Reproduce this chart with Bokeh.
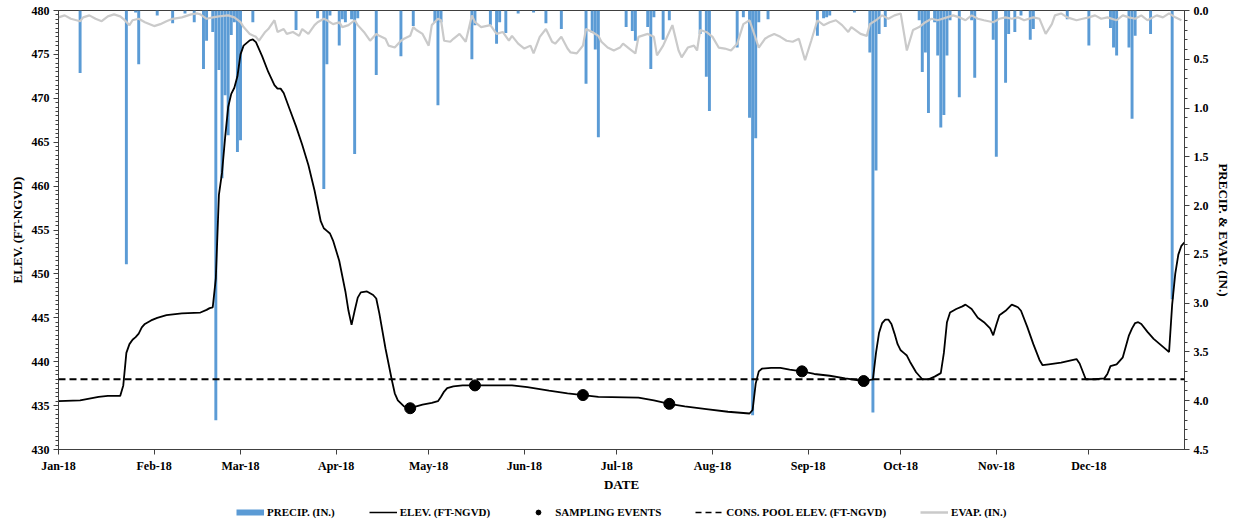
import datetime as dt
import pandas as pd
from bokeh.plotting import figure
from bokeh.layouts import column
from bokeh.models import (Range1d, LinearAxis, DatetimeTickFormatter, FixedTicker,
                          SingleIntervalTicker, PrintfTickFormatter, Legend, LegendItem,
                          Span, ColumnDataSource)
from bokeh.embed import file_html
from bokeh.resources import INLINE

# ---------------- data (days counted from 2018-01-01) ----------------
elev_day = [0, 7, 10, 13, 16, 20, 21, 22, 23, 24, 25, 26, 27, 28, 30, 32, 35, 40, 46, 48, 49,
            50, 51, 52, 53, 54, 55, 56, 57, 58, 59, 60, 62, 63, 64, 66, 68, 70, 71, 72, 73,
            75, 77, 79, 81, 83, 85, 86, 87, 88, 89, 91, 93, 94, 95, 96, 97, 98, 100, 102,
            103, 104, 106, 108, 109, 110, 112, 114, 118, 121, 123, 124, 125, 126, 128, 131,
            135, 147, 152, 159, 165, 170, 175, 188, 193, 198, 203, 210, 217, 224, 225, 226,
            227, 228, 231, 234, 237, 241, 245, 250, 255, 261, 264, 265, 266, 267, 268, 269,
            270, 271, 272, 273, 274, 275, 276, 278, 280, 282, 284, 286, 287, 288, 289, 291,
            293, 294, 296, 298, 300, 302, 303, 304, 305, 307, 309, 311, 312, 314, 316, 318,
            319, 321, 325, 330, 331, 333, 336, 339, 340, 341, 343, 345, 347, 348, 349, 350,
            351, 353, 355, 357, 359, 360, 361, 362, 363, 364, 365]
elev_ft = [435.5, 435.6, 435.8, 436.0, 436.1, 436.1, 437.3, 441.0, 442.0, 442.5, 442.8, 443.2,
           443.9, 444.3, 444.7, 445.0, 445.3, 445.5, 445.6, 445.9, 446.1, 446.2, 449.5, 459.0,
           461.5, 465.5, 469.0, 470.5, 471.2, 472.5, 475.0, 476.0, 476.6, 476.7, 476.4, 474.8,
           473.0, 471.5, 471.1, 471.1, 470.6, 468.7, 466.8, 464.7, 462.4, 459.5, 456.0, 455.2,
           454.9, 454.6, 453.8, 451.5, 448.0, 445.8, 444.2, 445.8, 447.3, 447.9, 448.0, 447.6,
           447.2, 445.5, 441.5, 438.0, 436.4, 435.6, 434.9, 434.7, 435.1, 435.3, 435.5, 436.0,
           436.6, 437.0, 437.2, 437.3, 437.3, 437.3, 437.1, 436.7, 436.4, 436.2, 436.0, 435.9,
           435.6, 435.2, 434.9, 434.6, 434.3, 434.1, 434.5, 437.5, 438.9, 439.2, 439.3, 439.3,
           439.1, 438.9, 438.6, 438.4, 438.1, 437.8, 438.0, 441.0, 443.3, 444.4, 444.8, 444.8,
           444.3, 443.2, 442.0, 441.3, 441.0, 440.7, 440.0, 438.8, 438.0, 438.0, 438.3, 438.7,
           441.0, 444.5, 445.6, 446.0, 446.3, 446.5, 446.0, 445.0, 444.5, 443.8, 443.0, 444.2,
           445.3, 445.8, 446.5, 446.2, 445.8, 444.0, 442.0, 440.2, 439.6, 439.7, 439.9, 440.3,
           439.8, 438.0, 438.0, 438.1, 438.6, 439.5, 439.7, 440.5, 443.0, 443.8, 444.4, 444.5,
           444.3, 443.4, 442.6, 442.0, 441.4, 441.1, 446.5, 450.0, 452.2, 453.2, 453.6]

sample_day = [114, 135, 170, 198, 241, 261]
sample_ft = [434.7, 437.3, 436.2, 435.2, 438.9, 437.8]

cons_pool_elev = 438.0

precip_day = [7, 22, 25, 26, 32, 37, 41, 44, 47, 48, 50, 51, 52, 53, 54, 55, 56, 57, 58, 59,
              63, 77, 84, 86, 87, 88, 91, 92, 93, 95, 96, 97, 103, 111, 115, 122, 123, 124,
              134, 135, 140, 142, 143, 145, 149, 154, 158, 163, 171, 173, 174, 175, 184, 186,
              187, 191, 192, 193, 196, 198, 208, 210, 211, 220, 222, 224, 225, 226, 227, 230,
              246, 248, 249, 250, 258, 263, 264, 265, 266, 268, 279, 280, 281, 282, 284, 285,
              286, 287, 288, 289, 292, 296, 297, 303, 304, 307, 308, 310, 312, 315, 316, 327,
              334, 341, 342, 343, 347, 348, 349, 354, 361]
precip_in = [0.64, 2.60, 0.02, 0.55, 0.05, 0.13, 0.03, 0.12, 0.60, 0.31, 0.22, 4.20, 0.61, 1.72,
             0.87, 1.28, 0.25, 0.12, 1.45, 1.33, 0.12, 0.20, 0.08, 1.83, 0.55, 0.05, 0.36, 0.09,
             0.12, 0.09, 1.47, 0.08, 0.66, 0.47, 0.16, 0.12, 0.97, 0.12, 0.50, 0.15, 0.15, 0.34,
             0.12, 0.23, 0.03, 0.02, 0.13, 0.19, 0.75, 0.23, 0.40, 1.30, 0.17, 0.21, 0.31, 0.17,
             0.60, 0.07, 0.30, 0.10, 0.24, 0.68, 1.03, 0.38, 0.07, 1.10, 4.15, 1.31, 0.12, 0.09,
             0.26, 0.08, 0.07, 0.05, 0.02, 0.43, 4.12, 1.64, 0.24, 0.17, 0.10, 0.63, 0.43, 1.05,
             0.12, 0.46, 1.20, 1.07, 0.46, 0.10, 0.89, 0.10, 0.69, 0.30, 1.50, 0.74, 0.24, 0.22,
             0.05, 0.30, 0.19, 0.09, 0.36, 0.18, 0.38, 0.46, 0.38, 1.11, 0.26, 0.24, 2.96]

evap_day = [0, 2, 4, 7, 8, 10, 12, 14, 16, 18, 20, 21, 23, 24, 26, 28, 31, 33, 35, 37, 40, 42,
            43, 45, 46, 48, 50, 52, 55, 57, 59, 60, 62, 64, 65, 67, 68, 70, 71, 73, 74, 76, 78,
            79, 81, 83, 84, 86, 87, 89, 91, 92, 94, 96, 97, 99, 101, 103, 104, 106, 107, 109,
            111, 112, 114, 115, 116, 118, 120, 121, 123, 124, 125, 127, 128, 130, 132, 134, 135,
            137, 140, 142, 144, 146, 147, 149, 151, 153, 154, 156, 158, 160, 161, 163, 165, 166,
            168, 170, 171, 173, 175, 176, 178, 180, 182, 183, 185, 187, 188, 191, 193, 194, 196,
            197, 199, 201, 202, 204, 206, 207, 208, 210, 212, 214, 216, 218, 220, 222, 224, 227,
            229, 230, 232, 234, 236, 238, 240, 242, 244, 246, 248, 250, 252, 254, 256, 257, 260,
            262, 263, 265, 267, 269, 271, 273, 275, 277, 279, 281, 283, 285, 288, 290, 292, 294,
            296, 298, 300, 303, 305, 307, 309, 311, 313, 316, 318, 320, 322, 323, 325, 327, 330,
            332, 334, 336, 338, 340, 343, 345, 347, 349, 351, 353, 356, 358, 360, 362, 364]
evap_in = [0.07, 0.05, 0.085, 0.11, 0.07, 0.05, 0.085, 0.11, 0.06, 0.04, 0.06, 0.085, 0.15, 0.10,
           0.085, 0.12, 0.16, 0.14, 0.11, 0.085, 0.07, 0.05, 0.04, 0.03, 0.04, 0.085, 0.07, 0.06,
           0.05, 0.07, 0.12, 0.17, 0.24, 0.27, 0.31, 0.22, 0.19, 0.10, 0.22, 0.19, 0.24, 0.22,
           0.26, 0.19, 0.24, 0.15, 0.12, 0.085, 0.10, 0.14, 0.12, 0.17, 0.15, 0.10, 0.15, 0.22,
           0.31, 0.24, 0.26, 0.29, 0.36, 0.38, 0.31, 0.29, 0.26, 0.17, 0.20, 0.24, 0.36, 0.15,
           0.085, 0.10, 0.31, 0.32, 0.29, 0.24, 0.32, 0.05, 0.12, 0.17, 0.15, 0.24, 0.22, 0.31,
           0.26, 0.34, 0.39, 0.36, 0.44, 0.27, 0.19, 0.32, 0.34, 0.27, 0.39, 0.43, 0.44, 0.36,
           0.19, 0.22, 0.26, 0.32, 0.38, 0.41, 0.38, 0.34, 0.39, 0.44, 0.27, 0.24, 0.27, 0.46,
           0.36, 0.29, 0.15, 0.41, 0.48, 0.38, 0.36, 0.41, 0.20, 0.22, 0.27, 0.38, 0.39, 0.41,
           0.34, 0.14, 0.10, 0.38, 0.29, 0.27, 0.24, 0.27, 0.31, 0.32, 0.29, 0.51, 0.31, 0.10,
           0.15, 0.12, 0.10, 0.15, 0.22, 0.17, 0.24, 0.26, 0.14, 0.10, 0.05, 0.085, 0.05, 0.03,
           0.41, 0.20, 0.17, 0.12, 0.085, 0.10, 0.07, 0.05, 0.07, 0.10, 0.05, 0.085, 0.10, 0.12,
           0.085, 0.07, 0.085, 0.07, 0.10, 0.07, 0.085, 0.24, 0.14, 0.05, 0.03, 0.07, 0.10,
           0.085, 0.07, 0.05, 0.085, 0.07, 0.10, 0.05, 0.07, 0.085, 0.05, 0.10, 0.05, 0.07,
           0.03, 0.07, 0.10]

month_starts = ["2018-01-01", "2018-02-01", "2018-03-01", "2018-04-01", "2018-05-01",
                "2018-06-01", "2018-07-01", "2018-08-01", "2018-09-01", "2018-10-01",
                "2018-11-01", "2018-12-01"]

legend_labels = ["PRECIP. (IN.)", "ELEV. (FT-NGVD)", "SAMPLING EVENTS",
                 "CONS. POOL ELEV. (FT-NGVD)", "EVAP. (IN.)"]

# ---------------- helpers ----------------
BASE = pd.Timestamp("2018-01-01")


def to_dates(days):
    return BASE + pd.to_timedelta(days, unit="D")


DAY_MS = 86400000
FONT = "Liberation Serif"
BLUE = "#5B9BD5"
GREY = "#CACACA"
AXIS = "#404040"
LEG_H = 24

p = figure(width=1233, height=520 - LEG_H, x_axis_type="datetime", output_backend="svg",
           toolbar_location=None,
           x_range=Range1d(dt.datetime(2018, 1, 1), dt.datetime(2019, 1, 1)),
           y_range=Range1d(430, 480),
           min_border_left=58, min_border_right=48, min_border_top=10,
           min_border_bottom=520 - LEG_H - 449)
p.extra_y_ranges = {"precip": Range1d(4.5, 0.0)}
p.grid.visible = False
p.outline_line_color = AXIS
p.background_fill_color = "white"
p.border_fill_color = "white"

precip_src = ColumnDataSource(dict(x=to_dates(precip_day), top=[0.0] * len(precip_in),
                                   bottom=precip_in))
evap_src = ColumnDataSource(dict(x=to_dates(evap_day), y=evap_in))
elev_src = ColumnDataSource(dict(x=to_dates(elev_day), y=elev_ft))
samp_src = ColumnDataSource(dict(x=to_dates(sample_day), y=sample_ft))

p.vbar(x="x", top="top", bottom="bottom", width=0.95 * DAY_MS, source=precip_src,
       fill_color=BLUE, line_color=None, y_range_name="precip")
p.line("x", "y", source=evap_src, line_color=GREY, line_width=2.2, y_range_name="precip")
p.line("x", "y", source=elev_src, line_color="black", line_width=1.8)
p.add_layout(Span(location=cons_pool_elev, dimension="width", line_color="black",
                  line_width=1.8, line_dash="7 4"))
p.scatter("x", "y", source=samp_src, size=11, fill_color="black", line_color="black")

# ---------------- axes ----------------
xa = p.xaxis[0]
xa.ticker = FixedTicker(ticks=[pd.Timestamp(m).value / 1e6 for m in month_starts])
fmt = "%b-%y"
xa.formatter = DatetimeTickFormatter(years=fmt, months=fmt, days=fmt, hours=fmt,
                                     minutes=fmt, seconds=fmt, milliseconds=fmt,
                                     microseconds=fmt, hourmin=fmt, minsec=fmt)
xa.axis_label = "DATE"

ya = p.yaxis[0]
ya.ticker = SingleIntervalTicker(interval=5, num_minor_ticks=10)
ya.axis_label = "ELEV. (FT-NGVD)"

ra = LinearAxis(y_range_name="precip", axis_label="PRECIP. & EVAP. (IN.)",
                ticker=SingleIntervalTicker(interval=0.5, num_minor_ticks=5),
                formatter=PrintfTickFormatter(format="%.1f"))
p.add_layout(ra, "right")

for ax in (xa, ya, ra):
    ax.axis_line_color = AXIS
    ax.major_tick_line_color = AXIS
    ax.minor_tick_line_color = AXIS
    ax.major_tick_in = 0
    ax.major_tick_out = 5
    ax.minor_tick_in = 0
    ax.minor_tick_out = 3
    ax.major_label_text_font = FONT
    ax.major_label_text_font_style = "bold"
    ax.major_label_text_font_size = "12px"
    ax.major_label_text_color = "black"
    ax.axis_label_text_font = FONT
    ax.axis_label_text_font_style = "bold"
    ax.axis_label_text_font_size = "13px"
    ax.axis_label_text_color = "black"
    ax.major_label_standoff = 4
    ax.axis_label_standoff = 5
xa.minor_tick_out = 0
xa.major_label_standoff = 4
xa.axis_label_standoff = 1
ya.axis_label_standoff = 4
ra.axis_label_standoff = 4

# ---------------- legend strip (separate figure under the chart) ----------------
# Its frame is aligned with the chart's frame; the proxy renderers reuse the series
# but lie outside this strip's ranges, so only their legend swatches are seen.
lf = figure(width=1233, height=LEG_H, output_backend="svg", toolbar_location=None,
            x_range=Range1d(0, 1), y_range=Range1d(0, 1), min_border=0,
            x_axis_location=None, y_axis_location=None)
lf.grid.visible = False
lf.outline_line_color = None
lf.background_fill_color = "white"
lf.border_fill_color = "white"

g_precip = lf.line("x", "bottom", source=precip_src, line_color=BLUE, line_width=6)
g_elev = lf.line("x", "y", source=elev_src, line_color="black", line_width=1.5)
g_samp = lf.scatter("x", "y", source=samp_src, size=10, fill_color="black",
                    line_color="black")
g_pool = lf.line("x", "y", source=elev_src, line_color="black", line_width=1.5,
                 line_dash="6 4")
g_evap = lf.line("x", "y", source=evap_src, line_color=GREY, line_width=2.5)

items = [LegendItem(label=lab, renderers=[r]) for lab, r in
         zip(legend_labels, [g_precip, g_elev, g_samp, g_pool, g_evap])]
lg = Legend(items=items, location=(178, 2), orientation="horizontal", padding=0, margin=0,
            spacing=34, glyph_width=28, glyph_height=12, label_height=12, label_standoff=3,
            border_line_alpha=0, background_fill_alpha=0,
            label_text_font=FONT, label_text_font_style="bold",
            label_text_font_size="11px", label_text_color="black")
lf.add_layout(lg, "center")

open("out.html", "w").write(file_html(column(p, lf, spacing=0), INLINE))
